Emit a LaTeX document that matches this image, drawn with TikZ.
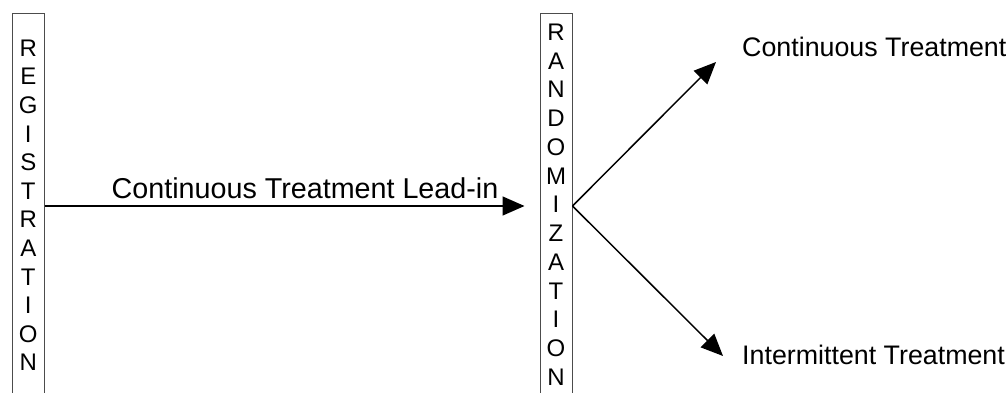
\documentclass[tikz,border=0pt]{standalone}
\usepackage{fontspec}
\setmainfont{Liberation Sans}
\usetikzlibrary{arrows.meta}
\begin{document}
\begin{tikzpicture}[x=1pt,y=-1pt,
  vbox/.style={draw=black!70,line width=1pt,minimum width=32pt,minimum height=384pt,inner sep=0pt},
  letter/.style={font=\fontsize{24}{24}\selectfont,inner sep=0pt,anchor=center},
  lbl/.style={font=\fontsize{26.8}{26.8}\selectfont,inner sep=0pt},
  arr/.style={line width=1.5pt,-{Triangle[length=22pt,width=19pt]}}]
\clip (0,0) rectangle (1007,393);
\node[vbox] (reg) at (28.3,206) {};
\node[vbox] (ran) at (556,206) {};
\foreach \l [count=\i from 0] in {R,E,G,I,S,T,R,A,T,I,O,N}
  \node[letter] (g\i) at (28.3,{48+\i*28.6}) {\l};
\foreach \l [count=\i from 0] in {R,A,N,D,O,M,I,Z,A,T,I,O,N}
  \node[letter] (d\i) at (556,{32+\i*28.75}) {\l};
\coordinate (tipc) at (716,62);
\coordinate (tipi) at (723,356);
\draw[arr,shorten >=15pt] (reg.east) -- (ran.west);
\draw[arr] (ran.east) -- (tipc);
\draw[arr] (ran.east) -- (tipi);
\node[lbl,anchor=west] (lc) at (742,47) {Continuous Treatment};
\node[lbl,anchor=west] (li) at (742,355) {Intermittent Treatment};
\node[lbl,font=\fontsize{28.7}{28.7}\selectfont] (ll) at (305,188) {Continuous Treatment Lead-in};
\end{tikzpicture}
\end{document}
